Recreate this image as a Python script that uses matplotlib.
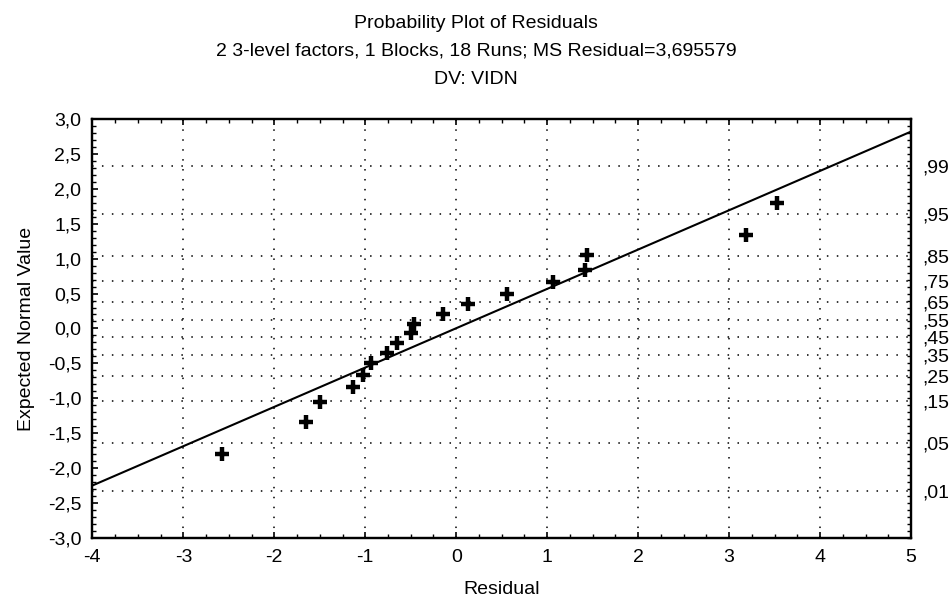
import matplotlib
matplotlib.use("Agg")
import matplotlib.pyplot as plt
from matplotlib.ticker import MultipleLocator, FuncFormatter, FixedLocator
from statistics import NormalDist

plt.rcParams["font.family"] = ["Liberation Sans", "DejaVu Sans"]

# Residuals (sorted) and their expected normal values
residuals = [-2.58, -1.65, -1.50, -1.14, -1.02, -0.94, -0.76, -0.65, -0.50,
             -0.46, -0.14, 0.13, 0.56, 1.06, 1.42, 1.44, 3.18, 3.53]
expected = [-1.795, -1.335, -1.056, -0.842, -0.660, -0.498, -0.349, -0.206, -0.068,
            0.068, 0.206, 0.349, 0.498, 0.660, 0.842, 1.056, 1.335, 1.795]

# Reference line endpoints
line_x = [-4, 5]
line_y = [-2.25, 2.82]

# Cumulative probability levels shown on the right axis
prob_levels = [0.01, 0.05, 0.15, 0.25, 0.35, 0.45, 0.55, 0.65, 0.75, 0.85, 0.95, 0.99]
prob_labels = [",01", ",05", ",15", ",25", ",35", ",45", ",55", ",65", ",75", ",85", ",95", ",99"]

title_lines = ["Probability Plot of Residuals",
               "2 3-level factors, 1 Blocks, 18 Runs; MS Residual=3,695579",
               "DV: VIDN"]

FS = 14
z_levels = [NormalDist().inv_cdf(p) for p in prob_levels]

fig = plt.figure(figsize=(9.52, 6.01), dpi=100)
ax = fig.add_axes([0.097, 0.105, 0.860, 0.697])

dotted = dict(color="black", linestyle=(0, (1, 5.5)), linewidth=1.1)
for x in range(-3, 5):
    ax.axvline(x, zorder=1, **dotted)
for z in z_levels:
    ax.axhline(z, zorder=1, **dotted)

ax.plot(line_x, line_y, color="black", linewidth=1.5, zorder=2)
ax.plot(residuals, expected, linestyle="none", marker="+", markersize=10,
        markeredgewidth=3.2, color="black", zorder=3)

ax.set_xlim(-4, 5)
ax.set_ylim(-3, 3)
ax.xaxis.set_major_locator(MultipleLocator(1))
ax.xaxis.set_minor_locator(MultipleLocator(0.25))
ax.yaxis.set_major_locator(MultipleLocator(0.5))
ax.yaxis.set_minor_locator(MultipleLocator(0.1))
ax.yaxis.set_major_formatter(FuncFormatter(lambda v, _: f"{v:.1f}".replace(".", ",")))
ax.xaxis.set_major_formatter(FuncFormatter(lambda v, _: f"{v:.0f}"))
ax.tick_params(which="both", direction="in", top=True, right=False,
               labelsize=FS, colors="black")
ax.tick_params(which="major", length=4, width=1.2)
ax.tick_params(axis="x", which="major", pad=8)
ax.tick_params(axis="y", which="major", pad=8)
ax.tick_params(which="minor", length=3, width=1.0)
for s in ax.spines.values():
    s.set_linewidth(1.6)

ax2 = ax.twinx()
ax2.set_ylim(-3, 3)
ax2.yaxis.set_major_locator(FixedLocator(z_levels))
ax2.set_yticklabels(prob_labels)
ax2.yaxis.set_minor_locator(MultipleLocator(0.1))
ax2.tick_params(which="major", length=0, labelsize=FS, pad=8)
ax2.tick_params(which="minor", direction="in", length=3, width=1.0)
for s in ax2.spines.values():
    s.set_linewidth(1.6)

ax.set_xlabel("Residual", fontsize=FS, labelpad=11)
ax.set_ylabel("Expected Normal Value", fontsize=FS, labelpad=9)

for i, txt in enumerate(title_lines):
    fig.text(0.5, 1 - (23 + 28.5 * i) / 601, txt, ha="center", va="center", fontsize=FS)

fig.savefig("out.png", dpi=100)
